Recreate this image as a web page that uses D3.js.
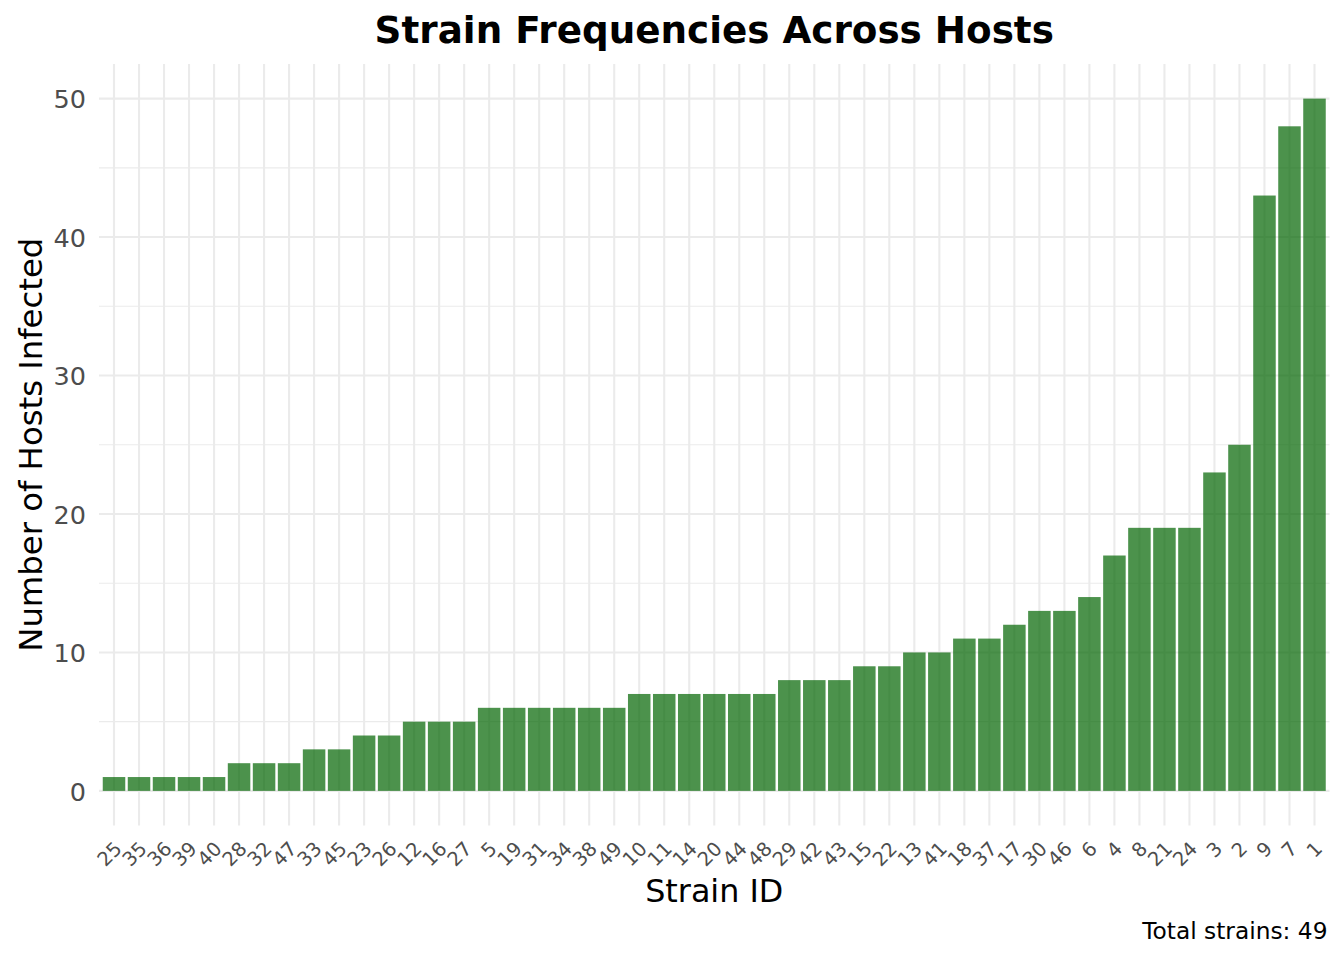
<!DOCTYPE html>
<html>
<head>
<meta charset="utf-8">
<script src="https://cdn.jsdelivr.net/npm/d3@7"></script>
<style>
  html, body { margin: 0; padding: 0; background: #fff; }
  svg { display: block; font-family: "DejaVu Sans", sans-serif; }
</style>
</head>
<body>
<svg id="chart" width="1344" height="960"></svg>
<script>
// ---- data ----
const strainIds = ["25","35","36","39","40","28","32","47","33","45","23","26","12","16","27","5","19","31","34","38","49","10","11","14","20","44","48","29","42","43","15","22","13","41","18","37","17","30","46","6","4","8","21","24","3","2","9","7","1"];
const hostCounts = [1,1,1,1,1,2,2,2,3,3,4,4,5,5,5,6,6,6,6,6,6,7,7,7,7,7,7,8,8,8,9,9,10,10,11,11,12,13,13,14,17,19,19,19,23,25,43,48,50];
const yMajorTicks = [0,10,20,30,40,50];
const yMinorTicks = [5,15,25,35,45];
const titleText = "Strain Frequencies Across Hosts";
const xTitle = "Strain ID";
const yTitle = "Number of Hosts Infected";
const captionText = "Total strains: " + strainIds.length;

// ---- layout ----
const panel = { left: 99, right: 1329.5, top: 64, bottom: 825.5 };
const svg = d3.select("#chart");

const x = d3.scaleBand()
  .domain(strainIds)
  .range([panel.left, panel.right])
  .paddingInner(0.1)
  .paddingOuter(0.15);

const y = d3.scaleLinear()
  .domain([-2.5, 52.5])
  .range([panel.bottom, panel.top]);

const grid = svg.append("g");
// minor horizontal
grid.selectAll("line.minor").data(yMinorTicks).enter().append("line")
  .attr("x1", panel.left).attr("x2", panel.right)
  .attr("y1", d => y(d)).attr("y2", d => y(d))
  .attr("stroke", "#EBEBEB").attr("stroke-width", 1.1);
// major horizontal
grid.selectAll("line.majorh").data(yMajorTicks).enter().append("line")
  .attr("x1", panel.left).attr("x2", panel.right)
  .attr("y1", d => y(d)).attr("y2", d => y(d))
  .attr("stroke", "#EBEBEB").attr("stroke-width", 2.1);
// major vertical
grid.selectAll("line.majorv").data(strainIds).enter().append("line")
  .attr("x1", d => x(d) + x.bandwidth() / 2).attr("x2", d => x(d) + x.bandwidth() / 2)
  .attr("y1", panel.top).attr("y2", panel.bottom)
  .attr("stroke", "#EBEBEB").attr("stroke-width", 2.1);

// bars
svg.append("g").selectAll("rect").data(strainIds).enter().append("rect")
  .attr("x", d => x(d))
  .attr("width", x.bandwidth())
  .attr("y", (d, i) => y(hostCounts[i]))
  .attr("height", (d, i) => y(0) - y(hostCounts[i]))
  .attr("fill", "#006400")
  .attr("fill-opacity", 0.7);

// y axis labels
const yAxis = d3.axisLeft(y).tickValues(yMajorTicks).tickSize(0).tickPadding(0);
const yg = svg.append("g").attr("transform", `translate(86,0)`).call(yAxis);
yg.select(".domain").remove();
yg.selectAll("text")
  .attr("fill", "#4D4D4D")
  .style("font-size", "25.5px")
  .style("font-family", "DejaVu Sans")
  .attr("x", 0).attr("dy", "0.36em");

// x axis labels
const xAxis = d3.axisBottom(x).tickSize(0).tickPadding(0);
const xg = svg.append("g").call(xAxis);
xg.select(".domain").remove();
xg.selectAll(".tick").attr("transform", null);
xg.selectAll(".tick text")
  .attr("fill", "#4D4D4D")
  .style("font-size", "19.5px")
  .style("font-family", "DejaVu Sans")
  .attr("text-anchor", "end")
  .attr("y", null).attr("dy", null)
  .attr("transform", d => `translate(${x(d) + x.bandwidth() / 2 + 9},${850}) rotate(-45)`);

// titles
svg.append("text")
  .attr("x", (panel.left + panel.right) / 2).attr("y", 43)
  .attr("text-anchor", "middle")
  .style("font-size", "37.3px").style("font-weight", "bold")
  .attr("fill", "#000")
  .text(titleText);

svg.append("text")
  .attr("x", (panel.left + panel.right) / 2).attr("y", 901.5)
  .attr("text-anchor", "middle")
  .style("font-size", "31.8px")
  .attr("fill", "#000")
  .text(xTitle);

svg.append("text")
  .attr("transform", `translate(41.5,${(panel.top + panel.bottom) / 2}) rotate(-90)`)
  .attr("text-anchor", "middle")
  .style("font-size", "32.3px")
  .attr("fill", "#000")
  .text(yTitle);

svg.append("text")
  .attr("x", 1327.5).attr("y", 939.3)
  .attr("text-anchor", "end")
  .style("font-size", "23.3px")
  .attr("fill", "#000")
  .text(captionText);
</script>
</body>
</html>
